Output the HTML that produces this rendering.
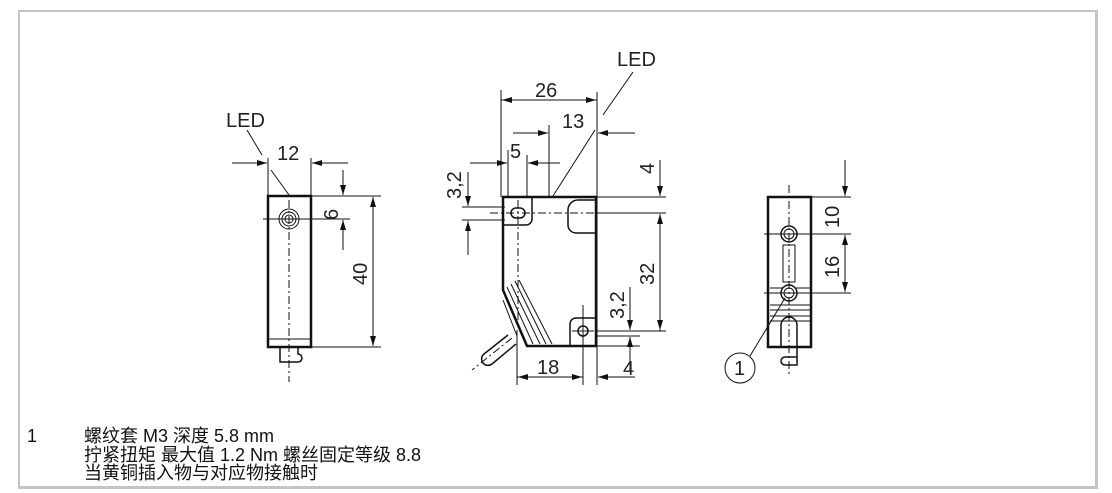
<!DOCTYPE html>
<html><head><meta charset="utf-8"><style>
html,body{margin:0;padding:0;background:#fff;width:1112px;height:493px;overflow:hidden}
.f{position:absolute;left:18px;top:10px;width:1075px;height:474px;border:2px solid #c4c4c4;border-right-width:3px;border-bottom-width:3px}
.t{position:absolute;font-family:"Liberation Sans","Noto Sans CJK SC",sans-serif;font-size:18px;line-height:18.5px;color:#111}
svg{position:absolute;left:0;top:0}
svg text{font-family:"Liberation Sans",sans-serif;font-size:20px}
</style></head><body>
<div class="f"></div>
<svg width="1112" height="493" viewBox="0 0 1112 493" fill="none" stroke="#111">
<defs><marker id="a" viewBox="0 0 10 6" refX="10" refY="3" markerWidth="10" markerHeight="6" orient="auto" markerUnits="userSpaceOnUse"><path d="M0,0L10,3L0,6z" fill="#111" stroke="none"/></marker></defs>
<g stroke-width="1">
<rect x="268" y="196" width="43" height="151" stroke-width="2.5"/>
<line x1="268" y1="339" x2="311" y2="339"/>
<circle cx="289" cy="219" r="10"/><circle cx="289" cy="219" r="7"/><circle cx="289" cy="219" r="4"/>
<line x1="289" y1="200" x2="289" y2="382" stroke-dasharray="8,3,2,3"/>
<line x1="263" y1="219" x2="350" y2="219"/>
<path d="M280,347V362H298a4,4 0 0 0 0,-8V347" stroke-width="1.5"/>
<line x1="268" y1="158" x2="268" y2="196"/><line x1="311" y1="158" x2="311" y2="196"/>
<line x1="232" y1="163" x2="267" y2="163" marker-end="url(#a)"/>
<line x1="348" y1="163" x2="312" y2="163" marker-end="url(#a)"/>
<line x1="247" y1="130" x2="262" y2="155"/><line x1="271" y1="170" x2="289" y2="195"/>
<line x1="311" y1="196" x2="381" y2="196"/><line x1="311" y1="347" x2="381" y2="347"/>
<line x1="343" y1="170" x2="343" y2="195" marker-end="url(#a)"/>
<line x1="343" y1="250" x2="343" y2="220" marker-end="url(#a)"/>
<line x1="373" y1="220" x2="373" y2="197" marker-end="url(#a)"/>
<line x1="373" y1="320" x2="373" y2="346" marker-end="url(#a)"/>
<line x1="373" y1="215" x2="373" y2="325"/>
<path d="M503,197H596V346H527L503,290Z" stroke-width="2.5"/>
<path d="M503,290L527,346M507,287L533,344M511,284L540,344M515,281L546,344M519,280L552,344" />
<path d="M503,300L517,336" />
<path d="M508,335L484,354M516,344L492,364M484,354a5,5 0 0 0 8,10" stroke-width="1.5"/>
<line x1="512" y1="338" x2="472" y2="370" stroke-dasharray="8,3,2,3"/>
<path d="M503,197V225H526a6,6 0 0 0 6,-6V197" stroke-width="1.5"/>
<rect x="511" y="208" width="14" height="10" rx="5" stroke-width="1.5"/>
<path d="M596,200H578a10,10 0 0 0 -10,10V225a8,8 0 0 0 8,8H596" stroke-width="1.5"/>
<path d="M596,318H576a6,6 0 0 0 -6,6V346" stroke-width="1.5"/>
<circle cx="583" cy="331" r="5" stroke-width="1.5"/>
<line x1="490" y1="213" x2="600" y2="213" stroke-dasharray="8,3,2,3"/>
<line x1="518" y1="200" x2="518" y2="320" stroke-dasharray="8,3,2,3"/>
<line x1="583" y1="305" x2="583" y2="350"/>
<line x1="572" y1="331" x2="594" y2="331"/>
<line x1="596" y1="197" x2="666" y2="197"/><line x1="596" y1="213" x2="666" y2="213"/>
<line x1="596" y1="331" x2="666" y2="331"/><line x1="596" y1="336" x2="640" y2="336"/><line x1="596" y1="346" x2="640" y2="346"/>
<line x1="501" y1="90" x2="501" y2="197"/><line x1="597" y1="92" x2="597" y2="385"/>
<line x1="501" y1="100" x2="597" y2="100"/>
<line x1="520" y1="100" x2="502" y2="100" marker-end="url(#a)"/>
<line x1="578" y1="100" x2="596" y2="100" marker-end="url(#a)"/>
<line x1="549" y1="125" x2="549" y2="196"/>
<line x1="513" y1="133" x2="548" y2="133" marker-end="url(#a)"/>
<line x1="635" y1="133" x2="598" y2="133" marker-end="url(#a)"/>
<line x1="508" y1="150" x2="508" y2="196"/><line x1="527" y1="155" x2="527" y2="197"/>
<line x1="470" y1="163" x2="507" y2="163" marker-end="url(#a)"/>
<line x1="560" y1="163" x2="528" y2="163" marker-end="url(#a)"/>
<line x1="633" y1="72" x2="603" y2="115"/><line x1="595" y1="130" x2="553" y2="196"/>
<line x1="462" y1="207" x2="505" y2="207"/><line x1="462" y1="220" x2="505" y2="220"/>
<line x1="468" y1="172" x2="468" y2="206" marker-end="url(#a)"/>
<line x1="468" y1="255" x2="468" y2="221" marker-end="url(#a)"/>
<line x1="660" y1="160" x2="660" y2="196" marker-end="url(#a)"/>
<line x1="660" y1="214" x2="660" y2="331"/>
<line x1="660" y1="240" x2="660" y2="214" marker-end="url(#a)"/>
<line x1="660" y1="305" x2="660" y2="330" marker-end="url(#a)"/>
<line x1="630" y1="287" x2="630" y2="330" marker-end="url(#a)"/>
<line x1="630" y1="372" x2="630" y2="337" marker-end="url(#a)"/>
<line x1="517" y1="330" x2="517" y2="385"/><line x1="583" y1="340" x2="583" y2="385"/>
<line x1="517" y1="377" x2="583" y2="377"/>
<line x1="535" y1="377" x2="518" y2="377" marker-end="url(#a)"/>
<line x1="565" y1="377" x2="582" y2="377" marker-end="url(#a)"/>
<line x1="635" y1="377" x2="598" y2="377" marker-end="url(#a)"/>
<rect x="768" y="197" width="43" height="150" stroke-width="2.5"/>
<line x1="789" y1="185" x2="789" y2="375" stroke-dasharray="8,3,2,3"/>
<circle cx="789" cy="234" r="8" stroke-width="1.5"/><circle cx="789" cy="234" r="5"/>
<circle cx="789" cy="293" r="8" stroke-width="1.5"/><circle cx="789" cy="293" r="5"/>
<line x1="764" y1="234" x2="814" y2="234"/><line x1="764" y1="293" x2="814" y2="293"/>
<rect x="783" y="245" width="12" height="37"/>
<path d="M770,288H783M795,288H810M770,305H810M770,310H810M770,316H810M770,321H810"/>
<path d="M781,347V325a8,8 0 0 1 16,0V365H785a4,4 0 0 1 0,-8H797" stroke-width="1.5"/>
<line x1="811" y1="197" x2="851" y2="197"/><line x1="811" y1="234" x2="851" y2="234"/><line x1="811" y1="293" x2="851" y2="293"/>
<line x1="845" y1="160" x2="845" y2="196" marker-end="url(#a)"/>
<line x1="845" y1="250" x2="845" y2="235" marker-end="url(#a)"/>
<line x1="845" y1="277" x2="845" y2="292" marker-end="url(#a)"/>
<line x1="845" y1="245" x2="845" y2="282"/>
<circle cx="740" cy="368" r="15"/>
<line x1="750" y1="356" x2="785" y2="298"/>
</g>
<g fill="#222" stroke="none">
<text x="226" y="127">LED</text>
<text x="277" y="160">12</text>
<text x="617" y="66">LED</text>
<text x="535" y="97">26</text>
<text x="562" y="128">13</text>
<text x="510" y="158">5</text>
<text x="537" y="374">18</text>
<text x="623" y="375">4</text>
<text x="734" y="375">1</text>
<text transform="translate(338,220) rotate(-90)">6</text>
<text transform="translate(367,285) rotate(-90)">40</text>
<text transform="translate(461,199) rotate(-90)">3,2</text>
<text transform="translate(654,174) rotate(-90)">4</text>
<text transform="translate(654,285) rotate(-90)">32</text>
<text transform="translate(624,319) rotate(-90)">3,2</text>
<text transform="translate(839,228) rotate(-90)">10</text>
<text transform="translate(839,278) rotate(-90)">16</text>
</g>
</svg>
<div class="t" style="left:27px;top:427px">1</div>
<div class="t" style="left:84px;top:427px">螺纹套 M3 深度 5.8 mm<br>拧紧扭矩 最大值 1.2 Nm 螺丝固定等级 8.8<br>当黄铜插入物与对应物接触时</div>
</body></html>
